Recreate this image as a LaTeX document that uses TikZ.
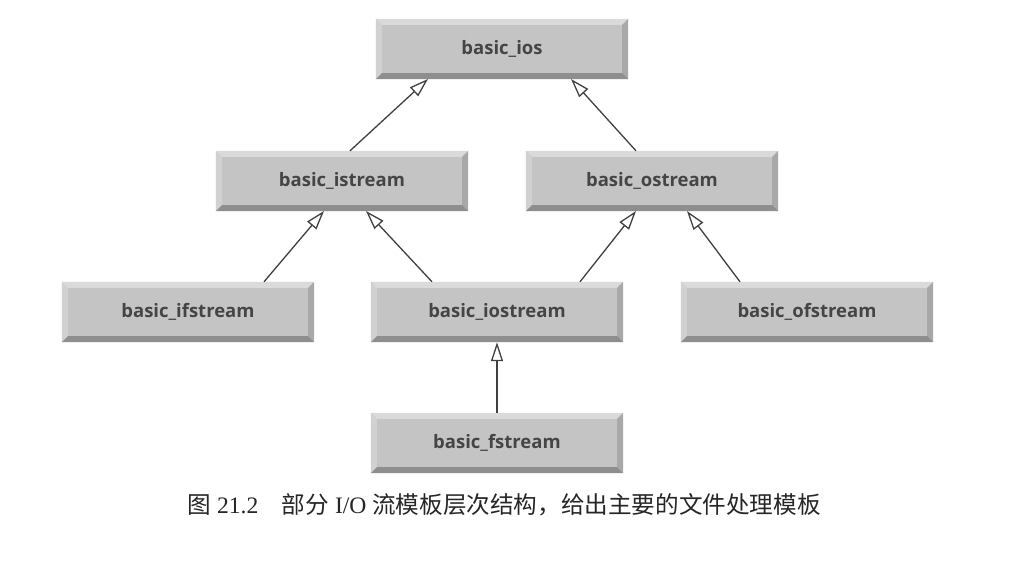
\documentclass[tikz,border=0pt]{standalone}
\usepackage{fontspec}
\setsansfont{Open Sans}
\setmainfont{Liberation Serif}
\newfontfamily\cjk{Noto Sans CJK SC}
\usetikzlibrary{arrows.meta,calc}
\definecolor{boxfill}{HTML}{C4C4C4}
\definecolor{bevlight}{HTML}{DADADA}
\definecolor{bevdark}{HTML}{8E8E8E}
\definecolor{bevside}{HTML}{A8A8A8}
\definecolor{txt}{HTML}{454545}
\definecolor{linec}{HTML}{404040}
\tikzset{
  cls/.style={fill=boxfill, minimum width=252pt, minimum height=60pt, inner sep=0pt,
    font=\sffamily\bfseries\fontsize{18.5}{22}\selectfont, text=txt},
  inh/.style={draw=linec, line width=1.3pt, -{Triangle[open,length=19pt,width=12pt,fill=white]}},
}
\newcommand{\bevel}[1]{%
  \fill[bevlight] (#1.north west) -- (#1.north east) -- ($(#1.north east)+(-6pt,-6pt)$) -- ($(#1.north west)+(6pt,-6pt)$) -- cycle;
  \fill[bevlight!90!gray] (#1.north west) -- ($(#1.north west)+(6pt,-6pt)$) -- ($(#1.south west)+(6pt,6pt)$) -- (#1.south west) -- cycle;
  \fill[bevside] (#1.north east) -- ($(#1.north east)+(-6pt,-6pt)$) -- ($(#1.south east)+(-6pt,6pt)$) -- (#1.south east) -- cycle;
  \fill[bevdark] (#1.south west) -- ($(#1.south west)+(6pt,6pt)$) -- ($(#1.south east)+(-6pt,6pt)$) -- (#1.south east) -- cycle;
}
\begin{document}
\begin{tikzpicture}[x=1pt,y=-1pt]
\useasboundingbox[fill=white] (0,0) rectangle (1012,571);
\node[cls] (ios) at (502,49) {};
\node[cls] (is) at (342,181) {};
\node[cls] (os) at (652,181) {};
\node[cls] (ifs) at (188,312) {};
\node[cls] (ios2) at (497,312) {};
\node[cls] (ofs) at (807,312) {};
\node[cls] (fs) at (497,443) {};
\foreach \n in {ios,is,os,ifs,ios2,ofs,fs}{\bevel{\n}}
\node[cls,fill=none] at (ios) {basic\_ios};
\node[cls,fill=none] at (is) {basic\_istream};
\node[cls,fill=none] at (os) {basic\_ostream};
\node[cls,fill=none] at (ifs) {basic\_ifstream};
\node[cls,fill=none] at (ios2) {basic\_iostream};
\node[cls,fill=none] at (ofs) {basic\_ofstream};
\node[cls,fill=none] at (fs) {basic\_fstream};
\coordinate (a1) at (428,79);
\coordinate (a2) at (571,79);
\coordinate (b1) at (324,211);
\coordinate (b2) at (366,211);
\coordinate (c1) at (636,211);
\coordinate (c2) at (687,211);
\draw[inh] (is.north -| 350,0) -- (a1);
\draw[inh] (os.north -| 636,0) -- (a2);
\draw[inh] (ifs.north -| 264,0) -- (b1);
\draw[inh] (ios2.north -| 432,0) -- (b2);
\draw[inh] (ios2.north -| 580,0) -- (c1);
\draw[inh] (ofs.north -| 740,0) -- (c2);
\draw[inh] (fs.north) -- (ios2.south);
\node[anchor=west, font=\fontsize{23.6}{27}\selectfont, text=black!85] (cap) at (184,505)
  {{\cjk 图} 21.2\hspace{1em}{\cjk 部分} I/O {\cjk 流模板层次结构，给出主要的文件处理模板}};
\end{tikzpicture}
\end{document}
